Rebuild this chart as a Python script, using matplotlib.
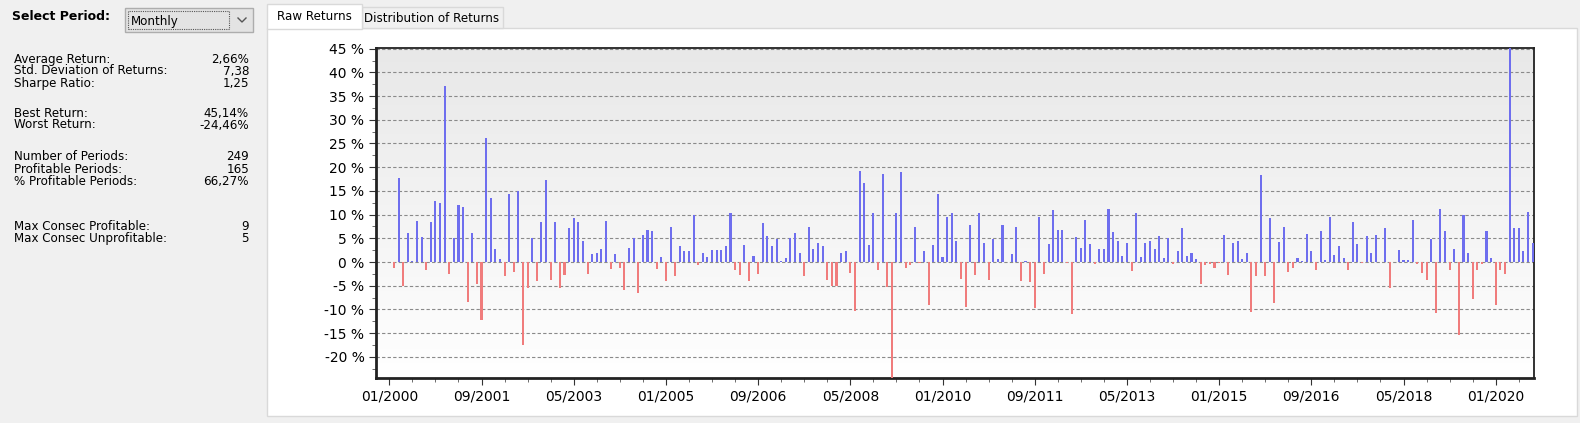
import numpy as np
import matplotlib
matplotlib.use('Agg')
import matplotlib.pyplot as plt
from matplotlib.patches import Rectangle
from matplotlib.lines import Line2D
from matplotlib.colors import LinearSegmentedColormap
from matplotlib.ticker import FixedLocator, MultipleLocator

# ---------------- data ----------------
start_year = 2000
start_month = 1
returns = [
    # 2000
    -0.1, -1.2, 17.7, -5.1, 6.2, 0.2, 8.7, 5.3, -1.7, 8.4, 12.8, 12.4,
    # 2001
    37.1, -2.5, 5.1, 12.1, 11.5, -8.4, 6.2, -4.6, -12.3, 26.2, 13.5, 2.8,
    # 2002
    0.7, -3.0, 14.3, -2.1, 15.0, -17.5, -5.4, 5.0, -4.0, 8.4, 17.4, -3.7,
    # 2003
    8.4, -5.4, -2.7, 7.1, 9.2, 8.4, 4.5, -2.5, 1.6, 2.0, 2.8, 8.7,
    # 2004
    -1.4, 1.6, -1.2, -5.8, 3.0, 5.0, -6.5, 5.7, 6.8, 6.5, -1.4, 1.1,
    # 2005
    -4.0, 7.3, -3.0, 3.3, 2.3, 2.3, 9.9, -0.6, 2.0, 1.1, 2.5, 2.5,
    # 2006
    2.5, 3.4, 10.3, -1.6, -2.7, 3.6, -4.0, 1.3, -2.5, 8.2, 5.5, 3.4,
    # 2007
    4.8, 0.2, 0.9, 5.0, 6.1, 2.0, -3.0, 7.3, 2.8, 4.1, 3.4, -3.7,
    # 2008
    -5.1, -5.1, 2.0, 2.3, -2.3, -10.4, 19.2, 16.7, 3.6, 10.3, -1.6, 18.5,
    # 2009
    -5.3, -24.46, 10.3, 19.0, -1.2, -0.7, 7.3, -0.3, 2.3, -9.1, 3.6, 14.3,
    # 2010
    1.1, 9.4, 10.3, 4.5, -3.5, -9.4, 7.9, -2.7, 10.3, 4.1, -3.7, 4.8,
    # 2011
    0.7, 7.9, 0.1, 1.6, 7.3, -4.0, 0.2, -4.3, -9.6, 9.4, -2.5, 3.9,
    # 2012
    10.9, 6.8, 6.8, -0.3, -10.9, 5.3, 3.0, 8.9, 3.9, -0.5, 2.8, 2.7,
    # 2013
    11.1, 6.4, 4.5, 1.3, 4.0, -1.9, 10.3, 1.1, 4.0, 4.5, 2.7, 5.5,
    # 2014
    0.9, 5.0, -0.5, 2.3, 7.1, 1.3, 2.0, 0.6, -4.6, -0.7, -0.4, -1.2,
    # 2015
    -0.2, 5.7, -2.7, 4.0, 4.5, 0.6, 2.0, -10.6, -3.0, 18.3, -3.0, 9.2,
    # 2016
    -8.7, 4.3, 7.3, -2.1, -1.2, 0.9, 0.2, 6.0, 2.3, -1.7, 6.5, 0.4,
    # 2017
    9.4, 1.4, 3.3, 0.9, -1.7, 8.4, 3.9, -0.2, 5.4, 2.0, 5.7, 0.1,
    # 2018
    7.1, -5.5, 0.1, 2.6, 0.4, 0.4, 8.9, -0.4, -2.3, -3.7, 4.8, -10.8,
    # 2019
    11.1, 6.5, -1.7, 2.8, -15.4, 10.0, 2.0, -7.9, -1.6, -0.5, 6.5, 0.9,
    # 2020
    -9.0, -1.6, -2.5, 45.14, 7.1, 7.1, 2.3, 10.5, 4.0,
]
y_ticks = [-20, -15, -10, -5, 0, 5, 10, 15, 20, 25, 30, 35, 40, 45]
x_tick_step = 20  # months between labelled ticks

stat_labels = [
    ["Average Return:", "Std. Deviation of Returns:", "Sharpe Ratio:"],
    ["Best Return:", "Worst Return:"],
    ["Number of Periods:", "Profitable Periods:", "% Profitable Periods:"],
    ["Max Consec Profitable:", "Max Consec Unprofitable:"],
]
stat_values = [
    ["2,66%", "7,38", "1,25"],
    ["45,14%", "-24,46%"],
    ["249", "165", "66,27%"],
    ["9", "5"],
]
period_choice = "Monthly"
tab_names = ["Raw Returns", "Distribution of Returns"]

# ---------------- figure ----------------
W, H = 1580, 423
fig = plt.figure(figsize=(W / 100, H / 100), dpi=100, facecolor='#f0f0f0')


def fx(x):
    return x / W


def fy(y):
    return 1 - y / H


def frect(x0, y0, x1, y1, **kw):
    r = Rectangle((fx(x0), fy(y1)), (x1 - x0) / W, (y1 - y0) / H,
                  transform=fig.transFigure, **kw)
    fig.patches.append(r)
    return r


UI = 'DejaVu Sans'

# tab page
frect(267, 28, 1577, 416, facecolor='white', edgecolor='#d9d9d9', lw=1)
# tabs
frect(362, 7, 503, 28, facecolor='#f0f0f0', edgecolor='#d9d9d9', lw=1)
frect(267, 4, 362, 29, facecolor='white', edgecolor='#d9d9d9', lw=1, zorder=3)
fig.text(fx(314), fy(17), tab_names[0], ha='center', va='center', fontsize=8.6,
         family=UI, color='black', zorder=4)
fig.text(fx(432), fy(18), tab_names[1], ha='center', va='center', fontsize=8.6,
         family=UI, color='black')

# chart background gradient
grad_cmap = LinearSegmentedColormap.from_list('g', ['#e4e4e4', '#ffffff'])
bg = fig.add_axes([fx(271), fy(412), (1573 - 271) / W, (412 - 32) / H], zorder=0)
bg.imshow(np.linspace(0, 1, 256).reshape(-1, 1), aspect='auto', cmap=grad_cmap,
          extent=[0, 1, 0, 1])
bg.axis('off')

# left panel
fig.text(fx(12), fy(17), "Select Period:", ha='left', va='center', fontsize=9,
         family=UI, fontweight='bold')
frect(125, 8, 253, 32, facecolor='#e3e3e3', edgecolor='#adadad', lw=1)
frect(128, 11, 229, 29, facecolor='none', edgecolor='#555555', lw=0.8, ls=(0, (1, 1)))
fig.text(fx(131), fy(21), period_choice, ha='left', va='center', fontsize=8.6,
         family=UI)
fig.lines.append(Line2D([fx(238), fx(242), fx(246)], [fy(18), fy(22), fy(18)],
                        transform=fig.transFigure, color='#555555', lw=1))

row_y = [[59, 71, 83], [113, 125], [157, 169, 181], [226, 238]]
for labels, values, ys in zip(stat_labels, stat_values, row_y):
    for lab, val, yy in zip(labels, values, ys):
        fig.text(fx(14), fy(yy), lab, ha='left', va='center', fontsize=8.6, family=UI)
        fig.text(fx(249), fy(yy), val, ha='right', va='center', fontsize=8.6, family=UI)

# ---------------- main plot ----------------
x0, x1, y0, y1 = 375.5, 1534, 48, 378
ax = fig.add_axes([fx(x0), fy(y1), (x1 - x0) / W, (y1 - y0) / H], zorder=2)
ax.imshow(np.linspace(0, 1, 256).reshape(-1, 1), aspect='auto',
          cmap=LinearSegmentedColormap.from_list('p', ['#e8e8e8', '#ffffff']),
          extent=[0, 1, 0, 1], transform=ax.transAxes, zorder=0)

vals = np.array(returns)
months = np.arange(len(vals))
colors = np.where(vals >= 0, '#6e6eee', '#f07c7c')
ax.bar(months, vals, width=0.45, color=colors, zorder=3, linewidth=0)

ax.set_xlim(-3.0, 248.3)
ax.set_ylim(-24.46, 45.14)
for t in y_ticks:
    ax.axhline(t, color='#8a8a8a', lw=0.8, ls=(0, (3, 2)), zorder=1)

ax.yaxis.set_major_locator(FixedLocator(y_ticks))
ax.set_yticklabels([f"{t} %" for t in y_ticks])
ax.yaxis.set_minor_locator(MultipleLocator(2.5))

xt = list(range(0, len(vals), x_tick_step))
labels = []
for m in xt:
    yy = start_year + (start_month - 1 + m) // 12
    mm = (start_month - 1 + m) % 12 + 1
    labels.append(f"{mm:02d}/{yy}")
ax.set_xticks(xt)
ax.set_xticklabels(labels)
ax.xaxis.set_minor_locator(MultipleLocator(5))

ax.tick_params(axis='both', which='major', labelsize=10, length=5, width=0.8,
               color='#333333', labelcolor='black', pad=3)
ax.tick_params(axis='both', which='minor', length=3, width=0.6, color='#555555')
for lab in ax.get_xticklabels() + ax.get_yticklabels():
    lab.set_family('DejaVu Sans')

for s in ['left', 'bottom']:
    ax.spines[s].set_linewidth(2)
    ax.spines[s].set_color('#222222')
for s in ['top', 'right']:
    ax.spines[s].set_linewidth(1.3)
    ax.spines[s].set_color('#222222')

fig.savefig('out.png', dpi=100, facecolor=fig.get_facecolor())
